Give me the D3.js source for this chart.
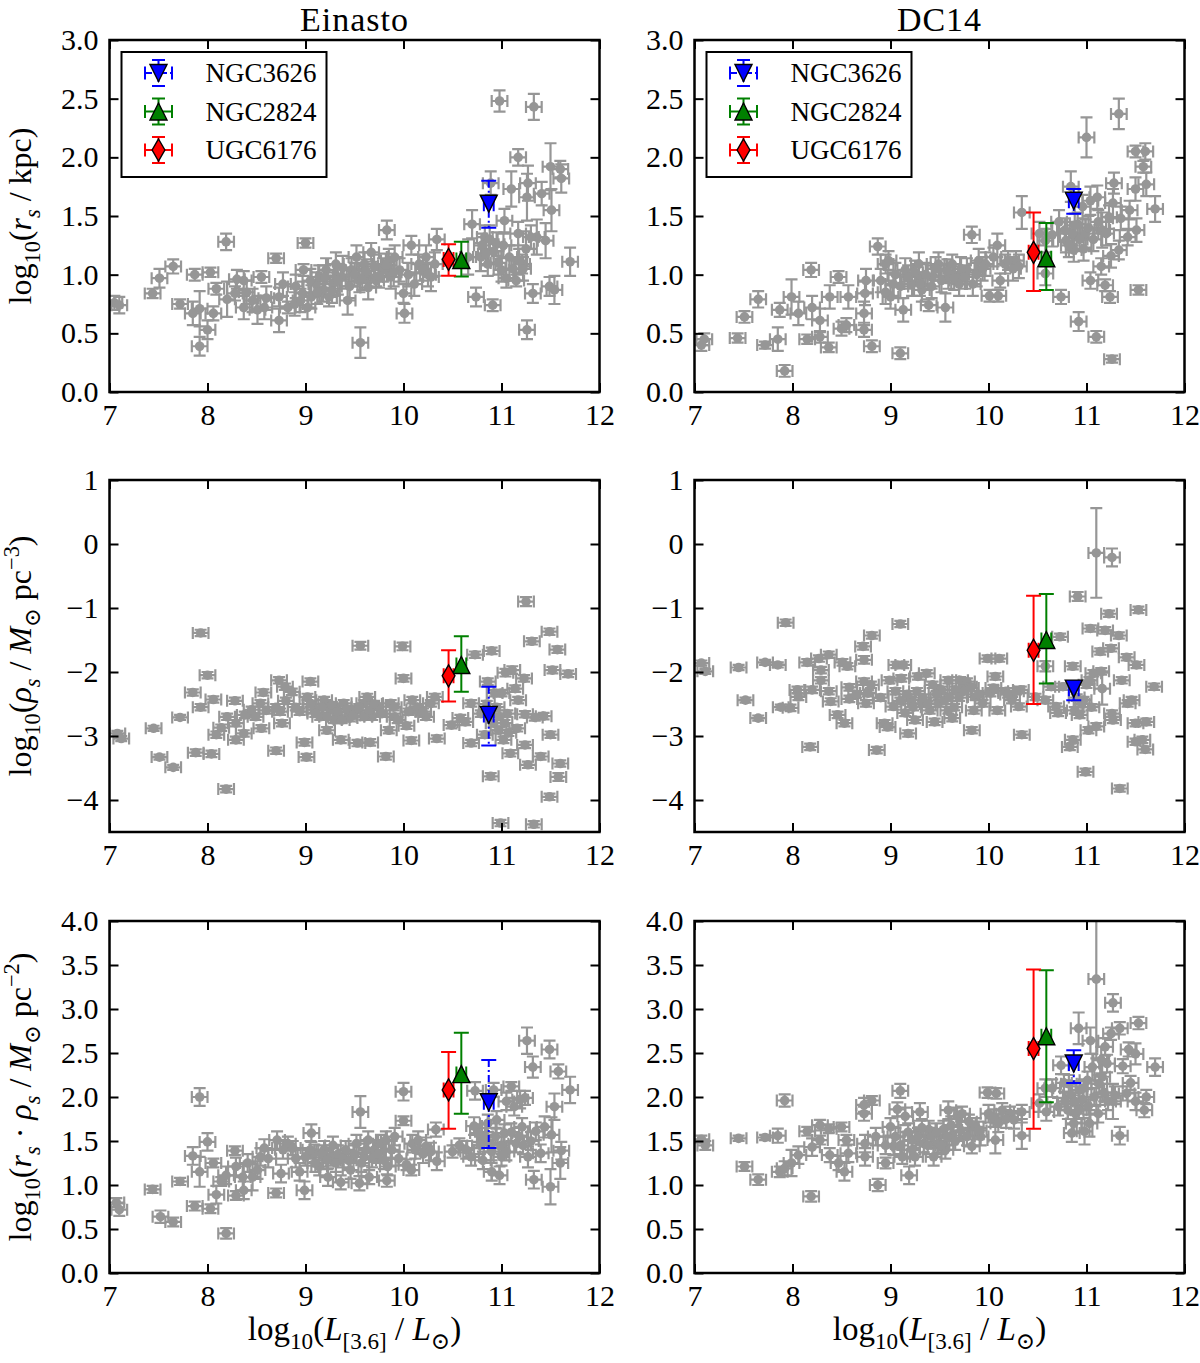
<!DOCTYPE html>
<html>
<head>
<meta charset="utf-8">
<style type="text/css">
body { margin: 0; background: #fff; }
svg text { font-family: "Liberation Serif", "DejaVu Serif", serif; fill: #000; }
.tick line { stroke-width: 2; }
</style>
<script src="https://d3js.org/d3.v7.min.js"></script>
</head>
<body>
<script type="text/javascript">
// ---- data: [log10 L, value, error] ----
var einastoRs = [
[7.05,0.76,0.06],[7.1,0.74,0.07],[7.44,0.84,0.04],[7.51,0.97,0.08],[7.65,1.07,0.06],[7.72,0.75,0.04],[7.87,1.0,0.05],[8.03,1.02,0.04],
[7.85,0.67,0.1],[7.92,0.71,0.15],[8.0,0.53,0.08],[7.92,0.39,0.08],[8.06,0.67,0.06],[8.19,1.28,0.07],[8.09,0.88,0.05],[8.2,0.79,0.15],
[8.28,0.84,0.06],[8.3,0.96,0.08],[8.37,0.95,0.08],[8.37,0.72,0.1],[8.46,0.78,0.1],[8.51,0.7,0.12],[8.55,0.98,0.05],[8.58,0.72,0.1],
[8.7,1.14,0.04],[8.73,0.61,0.1],[8.77,0.92,0.1],[8.73,0.81,0.08],[8.82,0.72,0.05],[8.89,0.75,0.1],[8.97,0.84,0.1],[8.98,1.04,0.05],
[9.0,1.27,0.04],[9.02,0.72,0.1],[9.06,0.81,0.1],[9.11,0.92,0.1],[9.14,0.98,0.1],[9.18,0.87,0.1],[9.21,1.04,0.1],[9.24,0.81,0.08],
[9.28,0.92,0.1],[9.31,1.09,0.1],[9.36,0.98,0.1],[9.43,0.78,0.12],[9.47,1.04,0.1],[9.52,1.15,0.1],[9.55,0.95,0.1],[9.56,0.42,0.13],
[9.6,1.09,0.1],[9.64,0.89,0.1],[9.67,1.19,0.08],[9.72,0.95,0.05],[9.79,1.04,0.1],[9.83,1.38,0.08],[9.85,1.12,0.1],[9.87,0.98,0.1],
[9.91,1.15,0.1],[9.96,1.04,0.1],[10.0,0.84,0.08],[10.01,0.67,0.08],[10.08,1.25,0.08],[10.11,0.92,0.1],[10.16,1.09,0.08],[10.23,1.15,0.1],
[10.28,0.98,0.12],[10.32,1.09,0.1],[10.34,1.3,0.09],[10.66,1.15,0.15],[10.7,1.43,0.12],[10.74,0.81,0.08],[10.79,1.15,0.12],[10.83,1.32,0.1],
[10.86,1.09,0.1],[10.89,1.78,0.1],[10.91,0.74,0.05],[10.95,1.26,0.1],[10.98,2.48,0.09],[11.0,1.04,0.1],[11.03,1.46,0.1],[11.05,0.97,0.08],
[11.1,1.73,0.15],[11.15,0.95,0.05],[11.17,2.0,0.07],[11.17,1.35,0.1],[11.21,1.09,0.08],[11.25,1.22,0.15],[11.26,1.66,0.2],[11.26,0.53,0.08],
[11.27,1.78,0.15],[11.32,0.84,0.08],[11.33,2.43,0.11],[11.36,1.32,0.15],[11.41,1.69,0.1],[11.45,1.29,0.15],[11.49,0.9,0.08],[11.5,1.92,0.2],
[11.51,1.55,0.18],[11.54,0.87,0.12],[11.6,1.9,0.07],[11.61,1.82,0.12],[11.7,1.11,0.12],
[9.05,0.95,0.1],[9.12,0.85,0.1],[9.2,0.98,0.1],[9.27,0.86,0.1],[9.33,0.95,0.12],[9.38,1.06,0.1],[9.45,0.9,0.1],[9.5,1.0,0.1],
[9.58,0.97,0.1],[9.62,1.03,0.1],[9.7,1.07,0.1],[9.75,0.99,0.1],[9.82,1.08,0.1],[9.9,1.02,0.12],[10.05,1.0,0.1],[10.2,1.05,0.1],
[10.25,1.0,0.1],[10.8,1.25,0.1],[10.84,1.18,0.1],[10.88,1.3,0.12],[10.92,1.2,0.1],[10.97,1.1,0.1],[11.02,1.25,0.1],[11.08,1.15,0.1],
[11.12,1.05,0.1],[11.18,1.12,0.1],[11.22,1.05,0.1],[11.3,1.32,0.1],[8.9,0.9,0.1],[8.95,0.78,0.1],[8.4,0.85,0.1],[8.6,0.8,0.1]
];
var dc14Rs = [
[7.07,0.4,0.05],[7.1,0.45,0.05],[7.44,0.46,0.04],[7.51,0.64,0.05],[7.65,0.79,0.07],[7.72,0.4,0.03],[7.85,0.45,0.1],[7.87,0.7,0.06],
[7.92,0.18,0.05],[7.99,0.81,0.15],[8.06,0.67,0.1],[8.15,0.45,0.04],[8.19,1.04,0.06],[8.2,0.72,0.1],[8.28,0.61,0.1],[8.28,0.47,0.05],
[8.37,0.38,0.04],[8.38,0.81,0.1],[8.47,0.98,0.05],[8.5,0.54,0.06],[8.55,0.57,0.06],[8.57,0.81,0.1],[8.73,0.67,0.1],[8.73,0.53,0.06],
[8.74,0.84,0.1],[8.81,0.39,0.05],[8.87,1.24,0.07],[8.95,1.09,0.08],[8.98,1.12,0.08],[9.0,0.81,0.1],[9.03,0.92,0.1],[9.1,0.33,0.05],
[9.13,0.7,0.1],[9.15,1.04,0.1],[9.22,0.92,0.1],[9.29,1.09,0.1],[9.32,0.87,0.1],[9.39,0.74,0.05],[9.42,0.98,0.1],[9.49,1.09,0.1],
[9.56,0.72,0.12],[9.59,0.98,0.1],[9.63,1.09,0.08],[9.7,0.92,0.1],[9.78,1.04,0.1],[9.83,1.34,0.07],[9.84,0.92,0.1],[9.9,1.12,0.1],
[9.97,1.09,0.1],[10.01,0.82,0.05],[10.05,1.15,0.08],[10.09,1.25,0.1],[10.1,0.82,0.05],[10.12,0.95,0.06],[10.17,1.09,0.08],[10.28,1.12,0.08],
[10.31,1.07,0.1],[10.34,1.53,0.14],[10.52,1.35,0.1],[10.58,1.29,0.1],[10.58,1.01,0.1],[10.65,1.34,0.1],[10.74,0.81,0.06],[10.72,1.45,0.1],
[10.79,1.29,0.1],[10.84,1.75,0.13],[10.86,1.35,0.1],[10.87,1.21,0.1],[10.91,1.43,0.1],[10.92,0.6,0.08],[10.96,1.58,0.1],[10.99,1.35,0.12],
[11.0,2.17,0.17],[11.04,0.95,0.07],[11.04,1.63,0.12],[11.1,0.47,0.05],[11.11,1.66,0.1],[11.15,1.07,0.07],[11.16,1.38,0.15],[11.19,0.91,0.05],
[11.23,1.49,0.1],[11.24,0.81,0.05],[11.25,1.16,0.1],[11.26,0.28,0.03],[11.27,1.61,0.12],[11.28,1.78,0.09],[11.33,1.21,0.08],[11.33,2.37,0.13],
[11.35,1.48,0.1],[11.42,1.32,0.07],[11.44,1.55,0.08],[11.5,2.05,0.05],[11.5,1.73,0.1],[11.51,1.38,0.1],[11.53,0.87,0.04],[11.58,1.92,0.05],
[11.6,2.05,0.07],[11.61,1.77,0.1],[11.7,1.56,0.11],
[9.05,1.0,0.1],[9.1,0.9,0.1],[9.18,0.98,0.1],[9.25,1.02,0.1],[9.3,0.92,0.1],[9.36,1.0,0.1],[9.42,0.9,0.1],[9.46,1.05,0.1],
[9.52,0.95,0.1],[9.58,1.03,0.1],[9.65,0.97,0.1],[9.72,1.05,0.1],[9.76,0.98,0.1],[9.88,1.0,0.1],[9.94,1.05,0.1],[10.2,1.12,0.08],
[10.25,1.05,0.1],[10.78,1.38,0.1],[10.82,1.25,0.1],[10.88,1.42,0.1],[10.93,1.3,0.1],[10.97,1.22,0.1],[11.02,1.4,0.1],[11.07,1.3,0.1],
[11.12,1.45,0.1],[11.2,1.35,0.1],[8.9,0.95,0.1],[8.95,0.85,0.1],[8.75,0.95,0.1]
];
var einastoRho = [
[7.08,-2.96,0.04],[7.12,-3.04,0.04],[7.45,-2.88,0.04],[7.51,-3.33,0.04],[7.65,-3.49,0.04],[7.72,-2.71,0.04],[7.85,-2.32,0.05],[7.88,-3.26,0.05],
[7.93,-1.39,0.05],[7.93,-2.55,0.05],[8.0,-2.05,0.05],[8.04,-3.28,0.05],[8.06,-2.43,0.05],[8.09,-2.98,0.05],[8.14,-2.87,0.05],[8.19,-3.83,0.05],
[8.2,-2.7,0.05],[8.28,-2.45,0.05],[8.29,-2.8,0.05],[8.29,-3.06,0.05],[8.37,-2.96,0.05],[8.38,-2.67,0.05],[8.45,-2.59,0.05],[8.49,-2.7,0.05],
[8.54,-2.49,0.05],[8.55,-2.88,0.05],[8.57,-2.32,0.05],[8.7,-3.23,0.05],[8.73,-2.13,0.05],[8.74,-2.62,0.05],[8.76,-2.8,0.05],[8.79,-2.23,0.05],
[8.86,-2.31,0.05],[8.94,-2.62,0.05],[8.99,-3.1,0.05],[9.01,-3.33,0.05],[9.02,-2.39,0.05],[9.05,-2.15,0.05],[9.09,-2.59,0.05],[9.15,-2.7,0.05],
[9.19,-2.44,0.05],[9.22,-2.91,0.05],[9.25,-2.59,0.05],[9.29,-2.75,0.05],[9.36,-3.06,0.05],[9.39,-2.49,0.05],[9.45,-2.72,0.05],[9.5,-2.59,0.05],
[9.53,-3.11,0.05],[9.56,-1.59,0.06],[9.6,-2.49,0.05],[9.63,-2.39,0.05],[9.66,-3.1,0.05],[9.68,-2.7,0.05],[9.74,-2.54,0.05],[9.82,-3.32,0.05],
[9.85,-2.91,0.05],[9.87,-2.49,0.05],[9.91,-2.7,0.05],[9.94,-2.75,0.05],[9.99,-1.6,0.06],[10.0,-2.1,0.05],[10.03,-2.84,0.05],[10.08,-3.07,0.05],
[10.09,-2.44,0.05],[10.11,-2.59,0.05],[10.23,-2.7,0.05],[10.28,-2.49,0.05],[10.32,-2.39,0.05],[10.34,-3.04,0.05],[10.49,-2.83,0.05],[10.58,-2.72,0.05],
[10.63,-2.78,0.05],[10.69,-3.11,0.05],[10.69,-2.49,0.05],[10.73,-1.73,0.05],[10.79,-2.65,0.05],[10.83,-2.98,0.05],[10.86,-2.15,0.05],[10.89,-3.63,0.05],
[10.9,-1.67,0.05],[10.92,-2.8,0.05],[10.93,-2.33,0.05],[10.97,-2.91,0.05],[10.99,-4.36,0.05],[11.0,-2.33,0.05],[11.02,-3.06,0.05],[11.04,-2.01,0.06],
[11.06,-2.65,0.05],[11.09,-3.27,0.05],[11.11,-1.97,0.06],[11.14,-2.26,0.05],[11.16,-2.88,0.05],[11.17,-2.44,0.05],[11.23,-2.1,0.05],[11.24,-2.66,0.05],
[11.24,-3.14,0.05],[11.25,-0.9,0.07],[11.27,-3.45,0.05],[11.31,-1.52,0.05],[11.33,-4.38,0.05],[11.34,-2.71,0.05],[11.4,-3.32,0.05],[11.43,-2.69,0.05],
[11.49,-1.37,0.05],[11.5,-2.98,0.05],[11.49,-3.95,0.05],[11.52,-1.97,0.05],[11.57,-1.65,0.05],[11.58,-3.64,0.06],[11.6,-3.43,0.05],[11.68,-2.03,0.05],
[9.05,-2.5,0.05],[9.1,-2.65,0.05],[9.17,-2.55,0.05],[9.22,-2.7,0.05],[9.27,-2.52,0.05],[9.33,-2.62,0.05],[9.37,-2.75,0.05],[9.42,-2.58,0.05],
[9.48,-2.68,0.05],[9.55,-2.55,0.05],[9.6,-2.7,0.05],[9.65,-2.6,0.05],[9.7,-2.5,0.05],[9.78,-2.65,0.05],[9.9,-2.55,0.05],[10.05,-2.62,0.05],
[10.15,-2.55,0.05],[10.2,-2.62,0.05],[10.95,-2.55,0.05],[10.98,-2.7,0.05],[11.03,-2.8,0.05],[11.07,-2.95,0.05],[10.85,-2.5,0.05],[10.9,-2.62,0.05],
[8.6,-2.6,0.05],[8.7,-2.55,0.05],[8.8,-2.45,0.05],[8.9,-2.55,0.05]
];
var dc14Rho = [
[7.07,-1.86,0.04],[7.11,-1.99,0.04],[7.45,-1.93,0.04],[7.52,-2.44,0.04],[7.65,-2.72,0.04],[7.72,-1.85,0.04],[7.85,-1.89,0.04],[7.88,-2.55,0.04],
[7.93,-1.23,0.05],[7.98,-2.56,0.05],[8.05,-2.28,0.05],[8.06,-2.39,0.05],[8.15,-1.85,0.05],[8.18,-3.17,0.05],[8.2,-2.28,0.05],[8.27,-1.79,0.05],
[8.29,-1.97,0.05],[8.29,-2.13,0.05],[8.37,-1.73,0.05],[8.37,-2.3,0.05],[8.39,-2.46,0.05],[8.46,-2.67,0.05],[8.51,-1.85,0.05],[8.53,-2.8,0.05],
[8.56,-1.91,0.05],[8.58,-2.24,0.05],[8.58,-2.42,0.05],[8.72,-1.6,0.05],[8.73,-1.81,0.06],[8.73,-2.15,0.05],[8.75,-2.49,0.05],[8.77,-2.33,0.05],
[8.81,-1.43,0.05],[8.86,-3.22,0.05],[8.94,-2.8,0.05],[8.97,-2.86,0.05],[8.99,-2.13,0.05],[9.03,-2.54,0.05],[9.06,-1.89,0.05],[9.1,-1.25,0.05],
[9.11,-2.1,0.05],[9.13,-1.89,0.05],[9.15,-2.64,0.05],[9.18,-2.96,0.05],[9.21,-2.44,0.05],[9.25,-2.75,0.05],[9.28,-2.07,0.05],[9.32,-2.49,0.05],
[9.37,-2.02,0.05],[9.4,-2.6,0.05],[9.45,-2.78,0.05],[9.49,-2.49,0.05],[9.52,-2.28,0.05],[9.59,-2.6,0.05],[9.59,-2.13,0.05],[9.63,-2.72,0.05],
[9.66,-2.28,0.05],[9.71,-2.13,0.05],[9.78,-2.15,0.05],[9.8,-2.23,0.05],[9.83,-2.91,0.05],[9.85,-2.6,0.05],[9.87,-2.39,0.05],[9.94,-2.49,0.05],
[9.99,-1.79,0.05],[10.02,-2.33,0.05],[10.07,-2.07,0.05],[10.09,-2.6,0.05],[10.11,-1.79,0.05],[10.18,-2.3,0.05],[10.24,-2.44,0.05],[10.31,-2.54,0.05],
[10.33,-2.28,0.05],[10.34,-2.98,0.05],[10.48,-2.39,0.05],[10.58,-1.91,0.08],[10.58,-2.44,0.05],[10.64,-2.23,0.05],[10.69,-2.54,0.05],[10.71,-2.64,0.05],
[10.73,-1.45,0.05],[10.76,-2.23,0.05],[10.83,-3.17,0.05],[10.86,-3.06,0.05],[10.86,-1.91,0.05],[10.88,-2.6,0.05],[10.91,-0.82,0.07],[10.93,-2.67,0.05],
[10.97,-2.44,0.05],[10.99,-3.56,0.05],[11.02,-2.91,0.05],[11.03,-2.13,0.05],[11.04,-1.32,0.05],[11.07,-2.02,0.05],[11.1,-0.14,0.7],[11.1,-2.85,0.05],
[11.14,-1.68,0.05],[11.15,-1.99,0.05],[11.16,-2.26,0.25],[11.19,-1.35,0.05],[11.23,-1.09,0.05],[11.25,-1.63,0.05],[11.26,-2.65,0.05],[11.26,-0.21,0.14],
[11.27,-2.75,0.05],[11.33,-1.43,0.05],[11.34,-3.82,0.05],[11.36,-2.13,0.05],[11.41,-1.77,0.05],[11.42,-2.49,0.05],[11.46,-2.44,0.05],[11.5,-2.8,0.05],
[11.5,-3.09,0.05],[11.51,-1.89,0.05],[11.53,-1.03,0.05],[11.57,-3.06,0.05],[11.6,-3.21,0.05],[11.61,-2.78,0.05],[11.69,-2.23,0.05],
[9.05,-2.3,0.05],[9.1,-2.45,0.05],[9.17,-2.35,0.05],[9.23,-2.55,0.05],[9.27,-2.3,0.05],[9.33,-2.4,0.05],[9.38,-2.5,0.05],[9.43,-2.2,0.05],
[9.47,-2.35,0.05],[9.55,-2.45,0.05],[9.6,-2.4,0.05],[9.65,-2.55,0.05],[9.7,-2.4,0.05],[9.75,-2.3,0.05],[9.82,-2.25,0.05],[9.9,-2.35,0.05],
[10.05,-2.25,0.05],[10.2,-2.35,0.05],[10.28,-2.3,0.05],[10.9,-2.4,0.05],[10.95,-2.5,0.05],[11.0,-2.2,0.05],[11.05,-2.55,0.05],[8.65,-2.35,0.05],
[8.8,-2.2,0.05],[8.9,-2.4,0.05]
];
var einastoProd = [
[7.07,0.8,0.05],[7.1,0.72,0.07],[7.44,0.95,0.04],[7.52,0.64,0.07],[7.65,0.58,0.05],[7.72,1.04,0.04],[7.85,1.33,0.1],[7.87,0.76,0.05],
[7.92,2.0,0.1],[7.92,1.15,0.17],[8.0,1.49,0.1],[8.03,0.73,0.05],[8.06,1.25,0.05],[8.09,0.89,0.1],[8.14,1.04,0.05],[8.19,0.45,0.06],
[8.19,1.11,0.1],[8.28,1.39,0.05],[8.29,0.88,0.05],[8.29,1.21,0.1],[8.36,1.09,0.15],[8.37,0.94,0.1],[8.41,1.25,0.1],[8.46,1.09,0.15],
[8.51,1.17,0.1],[8.54,1.32,0.1],[8.58,1.42,0.1],[8.7,0.91,0.05],[8.71,1.51,0.1],[8.75,1.13,0.1],[8.77,1.4,0.1],[8.82,1.47,0.08],
[8.87,1.42,0.08],[8.94,1.15,0.1],[8.99,0.94,0.1],[9.0,1.32,0.1],[9.06,1.59,0.1],[9.09,1.36,0.1],[9.14,1.21,0.1],[9.19,1.4,0.1],
[9.23,1.09,0.1],[9.26,1.32,0.1],[9.31,1.25,0.1],[9.36,1.03,0.08],[9.41,1.4,0.1],[9.46,1.17,0.1],[9.52,1.47,0.1],[9.55,1.02,0.08],
[9.56,1.83,0.18],[9.6,1.32,0.1],[9.64,1.51,0.1],[9.65,1.09,0.08],[9.7,1.4,0.1],[9.77,1.47,0.1],[9.82,1.51,0.1],[9.83,1.05,0.07],
[9.84,1.21,0.1],[9.91,1.55,0.1],[9.95,1.3,0.08],[10.0,2.06,0.1],[10.0,1.73,0.05],[10.03,1.23,0.06],[10.08,1.17,0.06],[10.09,1.47,0.1],
[10.15,1.51,0.1],[10.23,1.44,0.1],[10.28,1.38,0.1],[10.33,1.63,0.08],[10.34,1.27,0.1],[10.5,1.38,0.07],[10.57,1.45,0.08],[10.64,1.4,0.1],
[10.69,1.32,0.1],[10.72,1.67,0.1],[10.73,2.07,0.1],[10.76,1.59,0.1],[10.81,1.28,0.1],[10.86,1.7,0.1],[10.88,1.47,0.1],[10.9,1.15,0.1],
[10.92,2.08,0.08],[10.95,1.74,0.1],[10.98,1.11,0.1],[11.0,1.32,0.1],[11.03,1.59,0.1],[11.05,1.95,0.1],[11.1,2.12,0.05],[11.13,1.89,0.1],
[11.15,1.47,0.1],[11.19,1.97,0.1],[11.21,1.66,0.1],[11.24,1.99,0.08],[11.26,2.64,0.15],[11.27,1.32,0.12],[11.32,2.34,0.12],[11.33,1.06,0.1],
[11.35,1.61,0.1],[11.4,1.36,0.1],[11.44,1.66,0.12],[11.49,2.54,0.1],[11.5,0.98,0.2],[11.51,1.57,0.2],[11.54,1.89,0.15],[11.58,2.29,0.08],
[11.6,1.25,0.18],[11.61,1.39,0.1],[11.7,2.08,0.15],
[9.05,1.4,0.1],[9.1,1.25,0.1],[9.17,1.35,0.1],[9.22,1.28,0.1],[9.28,1.45,0.1],[9.33,1.35,0.1],[9.38,1.3,0.1],[9.44,1.28,0.1],
[9.5,1.35,0.1],[9.57,1.25,0.1],[9.62,1.4,0.1],[9.68,1.3,0.1],[9.74,1.35,0.1],[9.8,1.28,0.1],[9.88,1.4,0.1],[10.12,1.4,0.1],
[10.2,1.35,0.1],[10.78,1.45,0.1],[10.83,1.55,0.1],[10.9,1.38,0.1],[10.94,1.55,0.1],[11.0,1.45,0.1],[11.05,1.38,0.1],[11.1,1.6,0.1],
[11.18,1.55,0.1],[11.22,1.45,0.1],[11.3,1.5,0.1],[8.9,1.3,0.1],[8.62,1.3,0.1]
];
var dc14Prod = [
[7.07,1.52,0.04],[7.11,1.45,0.05],[7.45,1.53,0.03],[7.51,1.21,0.05],[7.65,1.06,0.06],[7.72,1.54,0.03],[7.85,1.56,0.08],[7.87,1.15,0.06],
[7.92,1.96,0.07],[7.92,1.19,0.08],[7.99,1.25,0.15],[8.06,1.34,0.1],[8.15,1.61,0.05],[8.19,0.87,0.06],[8.2,1.43,0.1],[8.28,1.68,0.06],
[8.28,1.51,0.05],[8.37,1.64,0.05],[8.38,1.34,0.08],[8.47,1.25,0.08],[8.5,1.66,0.05],[8.53,1.15,0.1],[8.55,1.51,0.06],[8.57,1.36,0.1],
[8.73,1.91,0.08],[8.73,1.81,0.08],[8.74,1.47,0.1],[8.74,1.32,0.1],[8.81,1.96,0.05],[8.87,1.0,0.07],[8.95,1.25,0.06],[9.0,1.66,0.1],
[9.03,1.44,0.1],[9.07,1.86,0.08],[9.1,2.07,0.08],[9.12,1.32,0.08],[9.15,1.78,0.1],[9.19,1.11,0.1],[9.22,1.51,0.1],[9.25,1.32,0.1],
[9.3,1.83,0.1],[9.34,1.47,0.1],[9.39,1.63,0.1],[9.44,1.32,0.1],[9.49,1.47,0.1],[9.54,1.63,0.1],[9.56,1.4,0.1],[9.59,1.85,0.1],
[9.63,1.56,0.1],[9.68,1.78,0.1],[9.73,1.81,0.08],[9.8,1.72,0.08],[9.83,1.44,0.08],[9.87,1.66,0.1],[9.92,1.55,0.1],[9.99,2.05,0.06],
[10.0,1.81,0.1],[10.05,1.76,0.1],[10.07,1.51,0.15],[10.08,2.04,0.06],[10.14,1.85,0.08],[10.22,1.81,0.08],[10.26,1.74,0.1],[10.34,1.83,0.08],
[10.34,1.56,0.15],[10.52,1.93,0.1],[10.58,2.1,0.1],[10.59,1.83,0.1],[10.65,2.1,0.1],[10.71,1.89,0.1],[10.74,2.36,0.1],[10.77,2.16,0.1],
[10.81,1.85,0.1],[10.84,2.02,0.1],[10.85,1.59,0.1],[10.87,1.7,0.1],[10.89,1.81,0.1],[10.92,2.78,0.18],[10.93,2.08,0.1],[10.96,1.97,0.1],
[10.98,1.61,0.15],[11.01,2.19,0.1],[11.03,1.7,0.15],[11.04,2.64,0.15],[11.06,2.34,0.15],[11.1,3.34,0.9],[11.12,1.81,0.1],[11.15,2.42,0.15],
[11.16,2.23,0.2],[11.19,2.57,0.1],[11.21,2.38,0.1],[11.25,2.72,0.07],[11.27,1.95,0.2],[11.27,3.07,0.1],[11.29,2.02,0.1],[11.34,2.78,0.07],
[11.34,1.56,0.1],[11.37,2.35,0.08],[11.43,2.54,0.08],[11.41,2.04,0.08],[11.45,2.16,0.08],[11.5,2.49,0.12],[11.5,1.95,0.1],[11.53,2.84,0.07],
[11.59,1.85,0.08],[11.61,2.0,0.08],[11.7,2.34,0.1],
[9.05,1.55,0.1],[9.1,1.45,0.1],[9.18,1.6,0.1],[9.22,1.4,0.1],[9.28,1.55,0.1],[9.32,1.65,0.1],[9.38,1.45,0.1],[9.42,1.55,0.1],
[9.47,1.6,0.1],[9.52,1.45,0.1],[9.58,1.55,0.1],[9.62,1.68,0.1],[9.66,1.5,0.1],[9.72,1.62,0.1],[9.78,1.55,0.1],[9.9,1.62,0.1],
[10.1,1.7,0.1],[10.18,1.75,0.1],[10.78,1.95,0.1],[10.82,2.15,0.1],[10.88,1.95,0.1],[10.92,1.85,0.1],[10.97,2.1,0.1],[11.02,1.9,0.1],
[11.08,2.0,0.1],[11.13,2.15,0.1],[11.18,2.05,0.1],[11.22,1.95,0.1],[8.95,1.45,0.1],[8.85,1.55,0.1]
];
var XERR = 0.08;

// highlighted galaxies: name, log10 L, per panel [value, err up, err down]
var galaxyNames = ["NGC3626", "NGC2824", "UGC6176"];
var galaxyLogL  = [10.87, 10.59, 10.46];
var galaxyXerr  = 0.05;
var einastoRsSel   = [[1.605,0.195,0.205],[1.125,0.155,0.14],[1.13,0.13,0.14]];
var dc14RsSel      = [[1.63,0.1,0.11],[1.14,0.3,0.27],[1.19,0.34,0.33]];
var einastoRhoSel  = [[-2.67,0.44,0.48],[-1.89,0.45,0.42],[-2.06,0.4,0.4]];
var dc14RhoSel     = [[-2.26,0.12,0.18],[-1.5,0.72,0.68],[-1.66,0.85,0.84]];
var einastoProdSel = [[1.94,0.48,0.52],[2.26,0.47,0.45],[2.08,0.43,0.44]];
var dc14ProdSel    = [[2.38,0.15,0.22],[2.69,0.75,0.75],[2.55,0.9,0.91]];

var xTicks    = [7, 8, 9, 10, 11, 12];
var rsTicks   = [0, 0.5, 1, 1.5, 2, 2.5, 3];
var rhoTicks  = [-4, -3, -2, -1, 0, 1];
var prodTicks = [0, 0.5, 1, 1.5, 2, 2.5, 3, 3.5, 4];
var colTitles = ["Einasto", "DC14"];

// ---- layout ----
var width = 1200, height = 1363;
var FONT = "Liberation Serif, DejaVu Serif, serif";
var gray = "#969696";
var selColor  = ["#0000ff", "#008000", "#ff0000"];
var selDash   = ["7,3,2,3", null, null];
var cols = [{x0: 109.5, x1: 599.5}, {x0: 694.5, x1: 1184.5}];
var rows = [
	{y0: 40,  y1: 392,  dom: [0, 3],    ticks: rsTicks,   fmt: d3.format(".1f"),
	 data: [einastoRs, dc14Rs], sel: [einastoRsSel, dc14RsSel],
	 label: [["log"],["10","b"],["("],["r","i"],["s","ib"],[" / kpc)"]]},
	{y0: 480, y1: 832,  dom: [-4.5, 1], ticks: rhoTicks,  fmt: d3.format("d"),
	 data: [einastoRho, dc14Rho], sel: [einastoRhoSel, dc14RhoSel],
	 label: [["log"],["10","b"],["("],["ρ","i"],["s","ib"],[" / "],["M","i"],["⊙","b"],[" pc"],["−3","p"],[")"]]},
	{y0: 921, y1: 1273, dom: [0, 4],    ticks: prodTicks, fmt: d3.format(".1f"),
	 data: [einastoProd, dc14Prod], sel: [einastoProdSel, dc14ProdSel],
	 label: [["log"],["10","b"],["("],["r","i"],["s","ib"],[" · "],["ρ","i"],["s","ib"],[" / "],["M","i"],["⊙","b"],[" pc"],["−2","p"],[")"]]}
];
var xLabel = [["log"],["10","b"],["("],["L","i"],["[3.6]","b"],[" / "],["L","i"],["⊙","b"],[")"]];

// custom marker shapes (matplotlib v, ^, d)
var shapes = [
	{draw: function(c, s) { var h = s; c.moveTo(-h, -h); c.lineTo(h, -h); c.lineTo(0, h); c.closePath(); }},
	{draw: function(c, s) { var h = s; c.moveTo(0, -h); c.lineTo(h, h); c.lineTo(-h, h); c.closePath(); }},
	{draw: function(c, s) { c.moveTo(0, -s); c.lineTo(s * 0.58, 0); c.lineTo(0, s); c.lineTo(-s * 0.58, 0); c.closePath(); }}
];
var shapeSize = [8.5, 8.5, 11];
var CAP = 6;

function rich(sel, parts, fs) {
	var shift = 0;
	parts.forEach(function(p) {
		var k = p[1] || "";
		var target = k.indexOf("b") >= 0 ? fs * 0.28 : (k.indexOf("p") >= 0 ? -fs * 0.36 : 0);
		var ts = sel.append("tspan").text(p[0])
			.attr("dy", target - shift)
			.attr("font-size", target ? fs * 0.7 : fs);
		if (k.indexOf("i") >= 0) ts.attr("font-style", "italic");
		shift = target;
	});
}

var svg = d3.select("body").append("svg").attr("width", width).attr("height", height)
	.attr("font-family", FONT);

colTitles.forEach(function(t, ci) {
	svg.append("text").attr("x", (cols[ci].x0 + cols[ci].x1) / 2).attr("y", 31)
		.attr("text-anchor", "middle").attr("font-size", 34).attr("letter-spacing", 1).text(t);
});

rows.forEach(function(r, ri) {
	cols.forEach(function(c, ci) {
		var x = d3.scaleLinear().domain([7, 12]).range([c.x0, c.x1]);
		var y = d3.scaleLinear().domain(r.dom).range([r.y1, r.y0]);
		var g = svg.append("g");
		var clipId = "clip" + ri + ci;
		g.append("clipPath").attr("id", clipId).append("rect")
			.attr("x", c.x0).attr("y", r.y0).attr("width", c.x1 - c.x0).attr("height", r.y1 - r.y0);
		var plot = g.append("g").attr("clip-path", "url(#" + clipId + ")");

		// gray sample: error bars then markers
		plot.append("g").selectAll("path").data(r.data[ci]).join("path")
			.attr("fill", "none").attr("stroke", gray).attr("stroke-width", 2.2)
			.attr("d", function(d) {
				var p = d3.path(), px = x(d[0]), py = y(d[1]);
				var yt = y(d[1] + d[2]), yb = y(d[1] - d[2]);
				var xl = x(d[0] - XERR), xr = x(d[0] + XERR);
				p.moveTo(px, yt); p.lineTo(px, yb);
				p.moveTo(px - CAP, yt); p.lineTo(px + CAP, yt);
				p.moveTo(px - CAP, yb); p.lineTo(px + CAP, yb);
				p.moveTo(xl, py); p.lineTo(xr, py);
				p.moveTo(xl, py - CAP); p.lineTo(xl, py + CAP);
				p.moveTo(xr, py - CAP); p.lineTo(xr, py + CAP);
				return p.toString();
			});
		plot.append("g").selectAll("circle").data(r.data[ci]).join("circle")
			.attr("cx", function(d) { return x(d[0]); })
			.attr("cy", function(d) { return y(d[1]); })
			.attr("r", 4.8).attr("fill", gray);

		// highlighted galaxies
		r.sel[ci].forEach(function(v, k) {
			var px = x(galaxyLogL[k]), py = y(v[0]);
			var yt = y(v[0] + v[1]), yb = y(v[0] - v[2]);
			var xl = x(galaxyLogL[k] - galaxyXerr), xr = x(galaxyLogL[k] + galaxyXerr);
			var p = d3.path();
			p.moveTo(px, yt); p.lineTo(px, yb);
			p.moveTo(xl, py); p.lineTo(xr, py);
			plot.append("path").attr("d", p.toString()).attr("fill", "none")
				.attr("stroke", selColor[k]).attr("stroke-width", 2).attr("stroke-dasharray", selDash[k]);
			var cp = d3.path();
			cp.moveTo(px - 7.5, yt); cp.lineTo(px + 7.5, yt);
			cp.moveTo(px - 7.5, yb); cp.lineTo(px + 7.5, yb);
			cp.moveTo(xl, py - 7.5); cp.lineTo(xl, py + 7.5);
			cp.moveTo(xr, py - 7.5); cp.lineTo(xr, py + 7.5);
			plot.append("path").attr("d", cp.toString()).attr("fill", "none")
				.attr("stroke", selColor[k]).attr("stroke-width", 2);
		});
		r.sel[ci].forEach(function(v, k) {
			plot.append("path")
				.attr("transform", "translate(" + x(galaxyLogL[k]) + "," + y(v[0]) + ")")
				.attr("d", d3.symbol().type(shapes[k]).size(shapeSize[k])())
				.attr("fill", selColor[k]).attr("stroke", "#000").attr("stroke-width", 1.4);
		});

		// axes, ticks inward on all sides
		var ax = g.append("g");
		ax.append("g").attr("transform", "translate(0," + r.y1 + ")")
			.call(d3.axisBottom(x).tickValues(xTicks).tickSize(-9).tickSizeOuter(0).tickPadding(12).tickFormat(d3.format("d")));
		ax.append("g").attr("transform", "translate(0," + r.y0 + ")")
			.call(d3.axisTop(x).tickValues(xTicks).tickSize(-9).tickSizeOuter(0).tickFormat(""));
		ax.append("g").attr("transform", "translate(" + c.x0 + ",0)")
			.call(d3.axisLeft(y).tickValues(r.ticks).tickSize(-9).tickSizeOuter(0).tickPadding(11).tickFormat(r.fmt));
		ax.append("g").attr("transform", "translate(" + c.x1 + ",0)")
			.call(d3.axisRight(y).tickValues(r.ticks).tickSize(-9).tickSizeOuter(0).tickFormat(""));
		ax.selectAll(".domain").remove();
		ax.selectAll("g").attr("font-family", FONT).attr("font-size", 30);
		ax.selectAll(".tick line").attr("stroke", "#000");

		g.append("rect").attr("x", c.x0).attr("y", r.y0)
			.attr("width", c.x1 - c.x0).attr("height", r.y1 - r.y0)
			.attr("fill", "none").attr("stroke", "#000").attr("stroke-width", 2.5);

		// legend in the top row
		if (ri === 0) {
			var lg = g.append("g").attr("transform", "translate(" + (c.x0 + 12) + "," + (r.y0 + 12) + ")");
			lg.append("rect").attr("width", 205).attr("height", 125)
				.attr("fill", "#fff").attr("stroke", "#000").attr("stroke-width", 2);
			galaxyNames.forEach(function(name, k) {
				var cy = 21 + k * 38.5, cx = 37;
				var lp = d3.path();
				lp.moveTo(cx - 13.5, cy); lp.lineTo(cx + 13.5, cy);
				lp.moveTo(cx, cy - 13); lp.lineTo(cx, cy + 13);
				lg.append("path").attr("d", lp.toString()).attr("fill", "none")
					.attr("stroke", selColor[k]).attr("stroke-width", 2).attr("stroke-dasharray", selDash[k]);
				var lc = d3.path();
				lc.moveTo(cx - 13.5, cy - 6.5); lc.lineTo(cx - 13.5, cy + 6.5);
				lc.moveTo(cx + 13.5, cy - 6.5); lc.lineTo(cx + 13.5, cy + 6.5);
				lc.moveTo(cx - 6.5, cy - 13); lc.lineTo(cx + 6.5, cy - 13);
				lc.moveTo(cx - 6.5, cy + 13); lc.lineTo(cx + 6.5, cy + 13);
				lg.append("path").attr("d", lc.toString()).attr("fill", "none")
					.attr("stroke", selColor[k]).attr("stroke-width", 2);
				lg.append("path").attr("transform", "translate(" + cx + "," + cy + ")")
					.attr("d", d3.symbol().type(shapes[k]).size(shapeSize[k])())
					.attr("fill", selColor[k]).attr("stroke", "#000").attr("stroke-width", 1.4);
				lg.append("text").attr("x", 84).attr("y", cy).attr("dy", "0.35em")
					.attr("font-size", 27).text(name);
			});
		}

		// x label under the bottom row
		if (ri === rows.length - 1) {
			var xt = svg.append("text").attr("x", (c.x0 + c.x1) / 2).attr("y", 1340)
				.attr("text-anchor", "middle");
			rich(xt, xLabel, 33);
		}
	});

	// y label on the left column
	var yc = (r.y0 + r.y1) / 2;
	var yt = svg.append("text").attr("text-anchor", "middle")
		.attr("transform", "translate(31," + yc + ") rotate(-90)");
	rich(yt, r.label, 32);
});
</script>
</body>
</html>
